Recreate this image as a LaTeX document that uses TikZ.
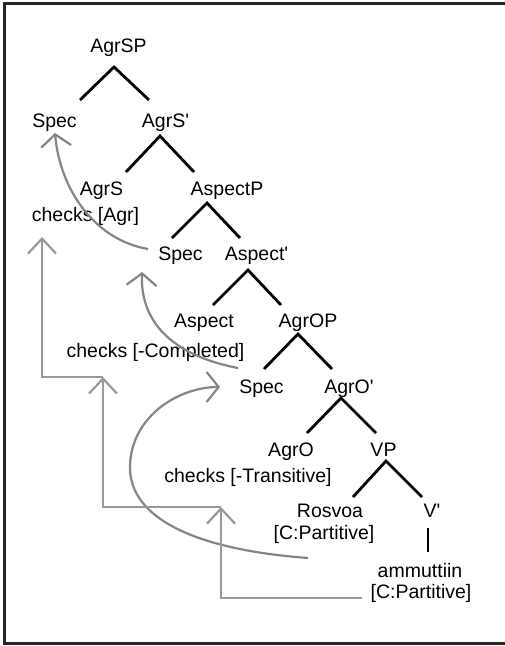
\documentclass[tikz,border=0pt]{standalone}
\usepackage{fontspec}
\setmainfont{Liberation Sans}
\usetikzlibrary{arrows.meta,calc}
\newcommand{\pr}{\textquotesingle}
\begin{document}
\begin{tikzpicture}[x=1pt,y=-1pt,
  lbl/.style={inner sep=0pt, anchor=base, font=\fontsize{19.5}{22}\selectfont},
  tree/.style={line width=2.8pt, draw=black, line join=miter},
  mv/.style={line width=2.2pt, draw=black!48, -{Straight Barb[length=12pt,width=30pt]}},
  chk/.style={line width=1.8pt, draw=black!40, -{Straight Barb[length=15pt,width=28pt,line width=2.2pt]}},
  brd/.style={fill=black!85, draw=none}
]
\useasboundingbox (0,0) rectangle (505,646);
% frame (open on the right), drawn as filled bars
\coordinate (tl) at (3,2);
\coordinate (br) at (505,645);
\fill[brd] (tl) rectangle (505,5);
\fill[brd] (tl) rectangle (6,645);
\fill[brd] (3,642) rectangle (br);

% labels
\node[lbl] (AgrSP) at (118.5,52) {AgrSP};
\node[lbl] (Spec1) at (54.5,127) {Spec};
\node[lbl] (AgrSb) at (165.5,127) {AgrS\pr};
\node[lbl] (AgrS) at (101.5,195) {AgrS};
\node[lbl] (chkA) at (85.5,221) {checks [Agr]};
\node[lbl] (AspP) at (227,195) {AspectP};
\node[lbl] (Spec2) at (180.5,260) {Spec};
\node[lbl] (Aspb) at (256.5,260) {Aspect\pr};
\node[lbl] (Asp) at (204,327) {Aspect};
\node[lbl] (AgrOP) at (308,327) {AgrOP};
\node[lbl] (chkC) at (155.5,357) {checks [-Completed]};
\node[lbl] (Spec3) at (261.5,393) {Spec};
\node[lbl] (AgrOb) at (349,393) {AgrO\pr};
\node[lbl] (AgrO) at (291,456) {AgrO};
\node[lbl] (chkT) at (248,482) {checks [-Transitive]};
\node[lbl] (VP) at (383.5,456) {VP};
\node[lbl] (Ros) at (330,517) {Rosvoa};
\node[lbl] (Part1) at (324,539) {[C:Partitive]};
\node[lbl] (Vb) at (432,517) {V\pr};
\node[lbl] (amm) at (420,577) {ammuttiin};
\node[lbl] (Part2) at (421,598) {[C:Partitive]};

% tree branches
\coordinate (a1) at (114,67);  \coordinate (l1) at (80,100);  \coordinate (r1) at (149,100);
\coordinate (a2) at (160,136); \coordinate (l2) at (126,172); \coordinate (r2) at (194,172);
\coordinate (a3) at (207,203); \coordinate (l3) at (172,238); \coordinate (r3) at (240,238);
\coordinate (a4) at (248,270); \coordinate (l4) at (213,305); \coordinate (r4) at (281,305);
\coordinate (a5) at (298,334); \coordinate (l5) at (264,369); \coordinate (r5) at (332,369);
\coordinate (a6) at (341,398); \coordinate (l6) at (307,433); \coordinate (r6) at (376,433);
\coordinate (a7) at (386,461); \coordinate (l7) at (353,497); \coordinate (r7) at (422,497);
\coordinate (v1) at (428,528); \coordinate (v2) at (428,552);
\foreach \i in {1,...,7} {\draw[tree] (l\i) -- (a\i) -- (r\i);}
\draw[tree] (v1) -- (v2);

% movement arrows
\draw[mv] ($(Spec2.base west)+(-10,-11)$) .. controls (95,240) and (60,190) .. ($(Spec1.base)+(0.5,6)$);
\draw[mv] ($(Spec3.base west)+(-1,-25)$) .. controls (170,355) and (140,320) .. ($(Spec2.base west)+(-16,12)$);
\draw[mv] ($(Part1.base)+(-16,19)$) .. controls (200,550) and (128,520) .. (130,465)
          .. controls (132,415) and (180,387) .. ($(Spec3.base west)+(-19,-6)$);

% checking arrows
\coordinate (c4) at ($(chkT.base)+(-27,25)$);
\coordinate (c5) at ($(chkC.base)+(-52.5,20)$);
\coordinate (c6) at ($(chkA.base)+(-43.5,16)$);
\draw[chk] ($(Part2.base west)+(-8,0)$) -| (c4);
\draw[chk] (c4) -| (c5);
\draw[chk] (c5) -| (c6);
\end{tikzpicture}
\end{document}
